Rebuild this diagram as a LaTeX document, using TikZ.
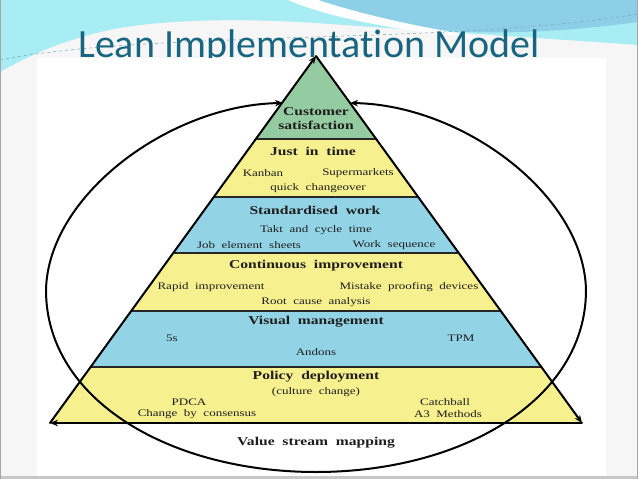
\documentclass[tikz,border=0pt]{standalone}
\usepackage{fontspec}
\setmainfont{Liberation Serif}
\newfontfamily\titlefont[Ligatures=NoCommon]{Carlito}
\newfontfamily\pyrfont[FakeStretch=1.3,WordSpace=2.0]{Liberation Serif}
\usetikzlibrary{arrows.meta}
\definecolor{titleblue}{HTML}{17657F}
\definecolor{slidebg}{HTML}{F6F6F6}
\definecolor{cyanbg}{HTML}{A9EDF4}
\definecolor{bluebg}{HTML}{8ECFE8}
\definecolor{greenband}{HTML}{95CBA0}
\definecolor{yellowband}{HTML}{F6F08E}
\definecolor{blueband}{HTML}{92D4E6}
\definecolor{txt}{HTML}{1E1E1E}
\tikzset{
  head/.style={font=\pyrfont\bfseries\fontsize{12}{14.5}\selectfont, text=txt, inner sep=0pt, align=center},
  item/.style={font=\pyrfont\fontsize{10}{12}\selectfont, text=txt, inner sep=0pt},
  edgearrow/.style={line width=2pt, line cap=round, -{Stealth[length=8pt,width=6.5pt]}},
  bandline/.style={line width=1.5pt, draw=black!85},
  loopline/.style={line width=2pt, {Stealth[length=8pt,width=6.5pt]}-{Stealth[length=8pt,width=6.5pt]}},
}
\begin{document}
\begin{tikzpicture}[x=1pt,y=-1pt]
\useasboundingbox (0,0) rectangle (638,479);
% slide background
\fill[slidebg] (0,0) rectangle (638,479);
\fill[cyanbg] (0,0) -- (638,0) -- (638,45) .. controls (540,38) and (430,31) .. (330,24)
  .. controls (250,18) and (160,18) .. (100,32) .. controls (60,42) and (30,55) .. (0,72) -- cycle;
\fill[bluebg] (318,0) -- (638,0) -- (638,22) .. controls (580,30) and (500,36) .. (440,30)
  .. controls (390,22) and (350,10) .. (318,0) -- cycle;
\fill[white] (288,0) .. controls (330,18) and (400,32) .. (500,40) .. controls (420,28) and (360,14) .. (318,0) -- cycle;
\draw[titleblue!60, line width=0.5pt, dashed] (0,60) .. controls (150,30) and (450,45) .. (638,14);
\node[font=\titlefont\fontsize{40}{44}\selectfont, text=titleblue, anchor=base west, inner sep=0pt] (title) at (78,57) {Lean Implementation Model};
% picture area
\fill[white] (37,58) rectangle (606,476);
\fill[black!22] (0,476) rectangle (638,479);
\draw[black!35, line width=0.8pt] (0.4,0) -- (0.4,479);
\draw[black!35, line width=0.8pt] (637.6,0) -- (637.6,479);
% pyramid
\coordinate (apex) at (316,56);
\coordinate (bl) at (50,423);
\coordinate (br) at (582,423);
\begin{scope}
  \clip (apex) -- (bl) -- (br) -- cycle;
  \fill[greenband] (40,50) rectangle (600,139);
  \fill[yellowband] (40,139) rectangle (600,197);
  \fill[blueband] (40,197) rectangle (600,253);
  \fill[yellowband] (40,253) rectangle (600,311);
  \fill[blueband] (40,311) rectangle (600,367);
  \fill[yellowband] (40,367) rectangle (600,423);
  \foreach \yy in {139,197,253,311,367} \draw[bandline] (40,\yy) -- (600,\yy);
\end{scope}
\draw[edgearrow] (bl) -- (apex);
\draw[edgearrow] (apex) -- (br);
\draw[edgearrow] (br) -- (bl);
% loop
\coordinate (ea) at (283,103);
\coordinate (eb) at (350,103);
\coordinate (el) at (46,290);
\coordinate (eo) at (316,472);
\coordinate (er) at (586,290);
\draw[loopline] (ea) .. controls (170,105) and (48,195) .. (el) .. controls (46,400) and (170,472) .. (eo)
  .. controls (462,472) and (586,400) .. (er) .. controls (584,195) and (463,105) .. (eb);
% texts
\node[head] (cust) at (316,118.5) {Customer\\satisfaction};
\node[head] (jit) at (313,151) {Just in time};
\node[item] (kanban) at (263,173) {Kanban};
\node[item] (superm) at (358,173) {Supermarkets};
\node[item] (quick) at (318,188) {quick changeover};
\node[head] (std) at (315,210) {Standardised work};
\node[item] (takt) at (316,230) {Takt and cycle time};
\node[item] (job) at (249,245) {Job element sheets};
\node[item] (worksq) at (394,245) {Work sequence};
\node[head] (ci) at (316,266) {Continuous improvement};
\node[item] (rapid) at (211,287) {Rapid improvement};
\node[item] (mistake) at (409,287) {Mistake proofing devices};
\node[item] (root) at (316,302) {Root cause analysis};
\node[head] (vm) at (316,322) {Visual management};
\node[item] (five) at (172,338) {5s};
\node[item] (tpm) at (461,338) {TPM};
\node[item] (andons) at (316,352) {Andons};
\node[head] (pd) at (316,377) {Policy deployment};
\node[item] (culture) at (316,392) {(culture change)};
\node[item] (pdca) at (189,402) {PDCA};
\node[item] (catch) at (445,402) {Catchball};
\node[item] (change) at (197,414) {Change by consensus};
\node[item] (athree) at (448,414) {A3 Methods};
\node[head] (vsm) at (316,443) {Value stream mapping};
\end{tikzpicture}
\end{document}
